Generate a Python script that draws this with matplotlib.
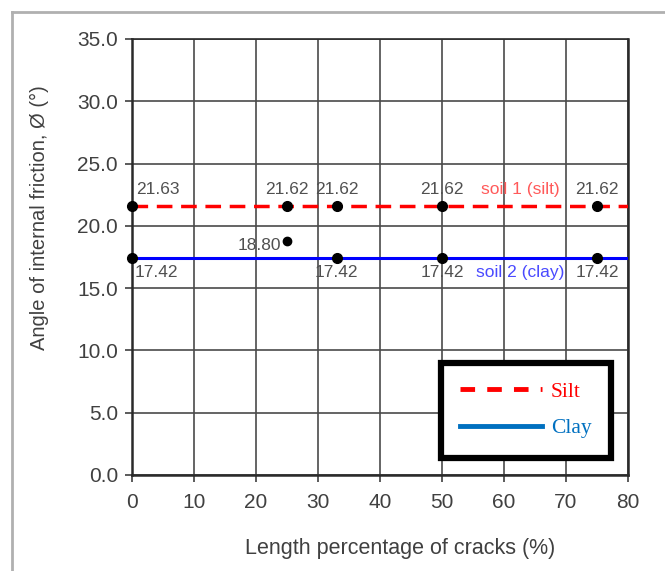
import numpy as np
import matplotlib.pyplot as plt
from matplotlib.lines import Line2D

plt.rcParams['font.family'] = ['Liberation Sans', 'DejaVu Sans']

# data
silt_x = [0, 25, 33, 50, 75]
silt_y = [21.63, 21.62, 21.62, 21.62, 21.62]
clay_x = [0, 33, 50, 75]
clay_y = [17.42, 17.42, 17.42, 17.42]
odd_x = [25]
odd_y = [18.80]
silt_level = 21.62
clay_level = 17.42

fig = plt.figure(figsize=(6.65, 5.71), dpi=100)
ax = fig.add_axes([132/665, 1-475/571, 496/665, 436/571])

# outer gray frame of the screenshot
fig.add_artist(Line2D([12/665, 12/665], [0, 1-12/571], color='#b0b0b0', lw=2))
fig.add_artist(Line2D([12/665, 1], [1-12/571, 1-12/571], color='#b0b0b0', lw=2))

ax.plot([0, 80], [silt_level, silt_level], color='red', ls=(0, (4.5, 2.5)), lw=2.5, zorder=3)
ax.plot([0, 80], [clay_level, clay_level], color='blue', lw=2.2, zorder=3)
ax.plot(silt_x, silt_y, 'o', color='black', ms=7, zorder=4, clip_on=False)
ax.plot(clay_x, clay_y, 'o', color='black', ms=7, zorder=4, clip_on=False)
ax.plot(odd_x, odd_y, 'o', color='black', ms=6, zorder=4)

lab = dict(fontsize=12.5, color='#505050')
for i in range(len(silt_x)):
    if silt_x[i] == 0:
        ax.text(silt_x[i] + 0.7, silt_y[i] + 1.3, '%.2f' % silt_y[i], ha='left', va='center', **lab)
    else:
        ax.text(silt_x[i], silt_y[i] + 1.3, '%.2f' % silt_y[i], ha='center', va='center', **lab)
for i in range(len(clay_x)):
    if clay_x[i] == 0:
        ax.text(clay_x[i] + 0.4, clay_y[i] - 1.15, '%.2f' % clay_y[i], ha='left', va='center', **lab)
    else:
        ax.text(clay_x[i], clay_y[i] - 1.15, '%.2f' % clay_y[i], ha='center', va='center', **lab)
ax.text(odd_x[0] - 1.0, odd_y[0] - 0.4, '%.2f' % odd_y[0], ha='right', va='center', **lab)

ax.text(62.6, silt_level + 1.3, 'soil 1 (silt)', ha='center', va='center', fontsize=12.5, color='#ff5a5a')
ax.text(62.6, clay_level - 1.15, 'soil 2 (clay)', ha='center', va='center', fontsize=12.5, color='#4a4aff')

ax.set_xlim(0, 80)
ax.set_ylim(0, 35)
ax.set_xticks(np.arange(0, 81, 10))
ax.set_yticks(np.arange(0, 36, 5))
ax.set_yticklabels(['%.1f' % v for v in np.arange(0, 36, 5)])
ax.grid(True, color='#4a4a4a', lw=1.2)
ax.set_axisbelow(True)
ax.tick_params(colors='#404040', labelsize=15, length=5, width=1.2, direction='out')
ax.tick_params(axis='x', pad=8)
ax.tick_params(axis='y', pad=5)
for s in ax.spines.values():
    s.set_color('#2a2a2a')
    s.set_linewidth(1.8)
ax.spines['top'].set_linewidth(1.2)

ax.set_xlabel('Length percentage of cracks (%)', fontsize=15.5, color='#404040')
ax.set_ylabel('Angle of internal friction, Ø (°)', fontsize=14.5, color='#404040')
ax.xaxis.set_label_coords(0.54, -0.1445)
ax.yaxis.set_label_coords(-0.168, 0.59)

handles = [Line2D([], [], color='red', ls=(0, (3, 2.5)), lw=3.5),
           Line2D([], [], color='#0070c0', lw=3.5)]
leg = ax.legend(handles, ['Silt', 'Clay'], loc='lower right', bbox_to_anchor=(0.965, 0.04),
                prop={'family': 'Liberation Serif', 'size': 15.5}, frameon=True, fancybox=False,
                framealpha=1, handlelength=3.8, borderpad=0.9, labelspacing=0.75,
                handletextpad=0.4, borderaxespad=0)
leg.get_frame().set_edgecolor('black')
leg.get_frame().set_linewidth(4.5)
leg.get_texts()[0].set_color('red')
leg.get_texts()[1].set_color('#0070c0')

fig.savefig('out.png', dpi=100)
